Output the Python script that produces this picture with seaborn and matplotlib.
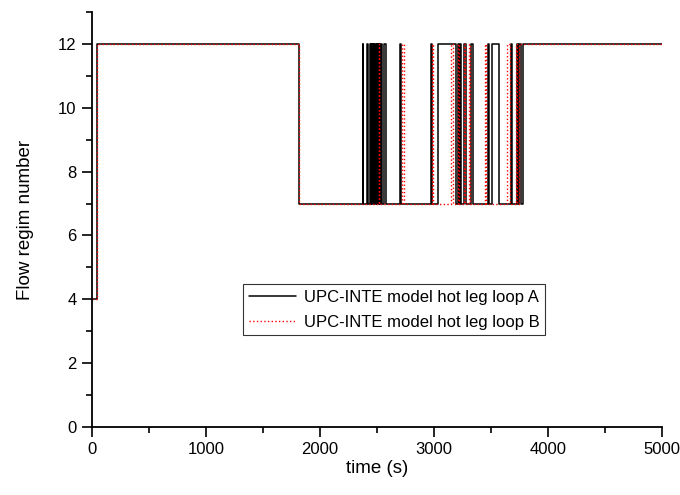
import matplotlib
matplotlib.use("Agg")
import matplotlib.pyplot as plt
import seaborn as sns
import pandas as pd
from matplotlib.ticker import MultipleLocator

# Loop A (black): step transitions (time s, regime number)
time_A = [0, 40, 1818,
          2377, 2381, 2412, 2420, 2438, 2447, 2450, 2456, 2460, 2470, 2474, 2485,
          2490, 2500, 2504, 2515, 2520, 2526, 2537, 2548, 2561, 2578,
          2701, 2710, 2975, 2985, 3035, 3192, 3210, 3220, 3230, 3236,
          3264, 3278, 3326, 3340, 3470, 3482, 3510, 3570, 3676, 3684,
          3730, 3738, 3750, 3760, 3785, 5000]
regime_A = [4, 12, 7,
            12, 7, 12, 7, 12, 7, 12, 7, 12, 7, 12, 7,
            12, 7, 12, 7, 12, 7, 12, 7, 12, 7,
            12, 7, 12, 7, 12, 7, 12, 7, 12, 7,
            12, 7, 12, 7, 12, 7, 12, 7, 12, 7,
            12, 7, 12, 7, 12, 12]

# Loop B (red dotted)
time_B = [0, 40, 1818,
          2517, 2522, 2720, 2734, 2982, 2990, 3150, 3166,
          3212, 3222, 3262, 3270, 3306, 3315, 3448, 3460,
          3642, 3664, 3718, 3727, 3745, 5000]
regime_B = [4, 12, 7,
            12, 7, 12, 7, 12, 7, 12, 7,
            12, 7, 12, 7, 12, 7, 12, 7,
            12, 7, 12, 7, 12, 12]

label_A = "UPC-INTE model hot leg loop A"
label_B = "UPC-INTE model hot leg loop B"

sns.set_style("ticks")
plt.rcParams['font.family'] = ['Liberation Sans', 'DejaVu Sans']
plt.rcParams['text.color'] = 'black'
plt.rcParams['axes.labelcolor'] = 'black'

fig = plt.figure(figsize=(6.8, 4.95), dpi=100)
ax = fig.add_axes([0.1353, 0.1374, 0.8382, 0.8384])

dfA = pd.DataFrame({"t": time_A, "r": regime_A})
dfB = pd.DataFrame({"t": time_B, "r": regime_B})
sns.lineplot(data=dfA, x="t", y="r", ax=ax, color="black", linewidth=1.1,
             drawstyle="steps-post", label=label_A, sort=False)
sns.lineplot(data=dfB, x="t", y="r", ax=ax, color="red", linewidth=1.0,
             linestyle=":", drawstyle="steps-post", label=label_B, sort=False)

ax.set_xlim(0, 5000)
ax.set_ylim(0, 13)
ax.xaxis.set_major_locator(MultipleLocator(1000))
ax.xaxis.set_minor_locator(MultipleLocator(500))
ax.yaxis.set_major_locator(MultipleLocator(2))
ax.yaxis.set_minor_locator(MultipleLocator(1))
ax.tick_params(which="major", direction="out", length=7, width=1.2,
               labelsize=12, color="black", labelcolor="black", pad=4)
ax.tick_params(which="minor", direction="out", length=4, width=1.2, color="black")
for s in ["top", "right"]:
    ax.spines[s].set_visible(False)
for s in ["left", "bottom"]:
    ax.spines[s].set_linewidth(1.3)
    ax.spines[s].set_color("black")

ax.set_xlabel("time (s)", fontsize=13.5, labelpad=2)
ax.set_ylabel("Flow regim number", fontsize=13.5, labelpad=17)

leg = ax.legend(loc="upper left", bbox_to_anchor=(0.265, 0.345), fontsize=12,
                frameon=True, fancybox=False, handlelength=2.8,
                borderpad=0.35, labelspacing=0.6, handletextpad=0.5,
                borderaxespad=0)
leg.get_frame().set_edgecolor("black")
leg.get_frame().set_linewidth(0.8)
for t in leg.get_texts():
    t.set_color("black")

fig.savefig("out.png", dpi=100)
